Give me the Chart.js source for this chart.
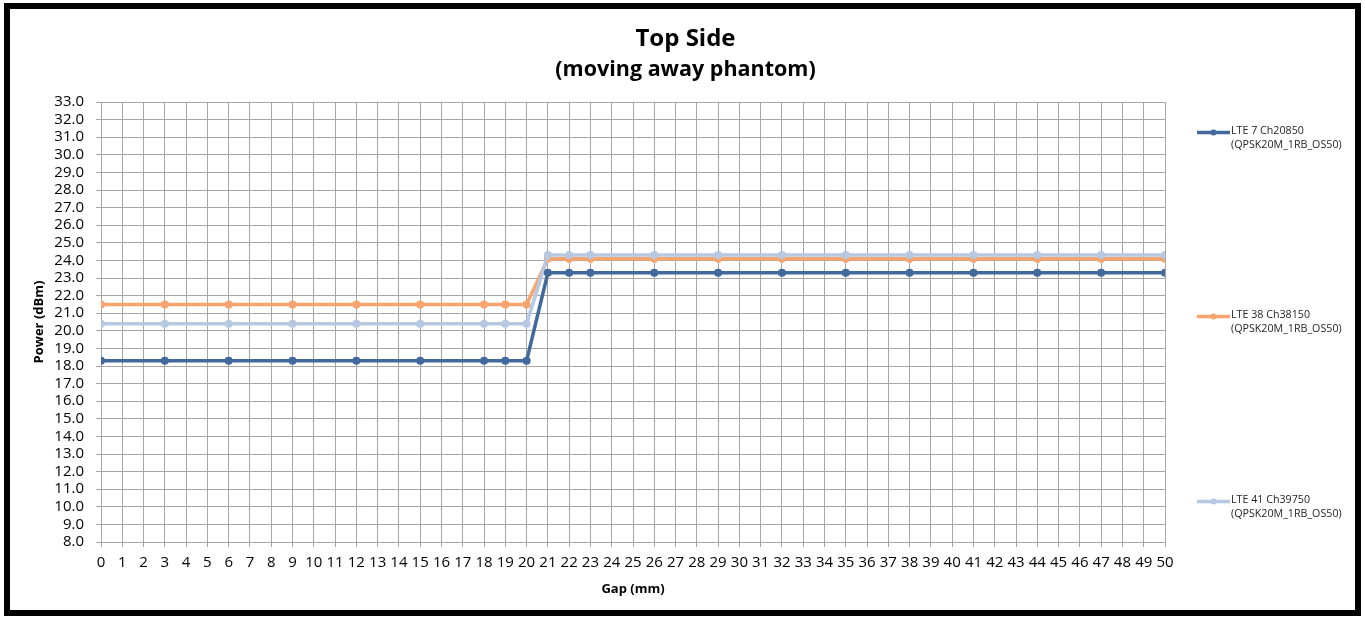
<!DOCTYPE html>
<html>
<head>
<meta charset="utf-8">
<script src="https://cdn.jsdelivr.net/npm/chart.js@4.4.1/dist/chart.umd.min.js"></script>
<style>
  html, body { margin: 0; padding: 0; background: #fff; }
  #frame {
    position: absolute; left: 4px; top: 3px; width: 1357px; height: 613px;
    box-sizing: border-box; border: 6px solid #000; background: #fff;
  }
  #wrap { position: absolute; left: 0; top: 0; width: 1365px; height: 619px; }
</style>
</head>
<body>
<div id="frame"></div>
<div id="wrap"><canvas id="chart" width="1365" height="619"></canvas></div>
<script>
// Gap positions (mm) where power was measured
const gaps = [0, 3, 6, 9, 12, 15, 18, 19, 20, 21, 22, 23, 26, 29, 32, 35, 38, 41, 44, 47, 50];

// Conducted power (dBm) per band
const lte7  = [18.3, 18.3, 18.3, 18.3, 18.3, 18.3, 18.3, 18.3, 18.3, 23.3, 23.3, 23.3, 23.3, 23.3, 23.3, 23.3, 23.3, 23.3, 23.3, 23.3, 23.3];
const lte38 = [21.5, 21.5, 21.5, 21.5, 21.5, 21.5, 21.5, 21.5, 21.5, 24.1, 24.1, 24.1, 24.1, 24.1, 24.1, 24.1, 24.1, 24.1, 24.1, 24.1, 24.1];
const lte41 = [20.4, 20.4, 20.4, 20.4, 20.4, 20.4, 20.4, 20.4, 20.4, 24.3, 24.3, 24.3, 24.3, 24.3, 24.3, 24.3, 24.3, 24.3, 24.3, 24.3, 24.3];

const seriesNames = [
  ['LTE 7 Ch20850', '(QPSK20M_1RB_OS50)'],
  ['LTE 38 Ch38150', '(QPSK20M_1RB_OS50)'],
  ['LTE 41 Ch39750', '(QPSK20M_1RB_OS50)']
];
const seriesColors = ['#41699D', '#F7A46E', '#B6C8E2'];

const titleText = 'Top Side';
const subtitleText = '(moving away phantom)';
const xTitle = 'Gap (mm)';
const yTitle = 'Power (dBm)';
const yMin = 8, yMax = 33, yStep = 1;
const xMin = 0, xMax = 50, xStep = 1;

const FONT = "'Open Sans', Lato, 'Liberation Sans', sans-serif";
const GRID = '#A6A6A6';

function toPoints(values) {
  return gaps.map((g, i) => ({ x: g, y: values[i] }));
}

const datasets = [lte7, lte38, lte41].map((vals, i) => ({
  label: seriesNames[i],
  data: toPoints(vals),
  borderColor: seriesColors[i],
  backgroundColor: seriesColors[i],
  borderWidth: 3.5,
  pointRadius: 4,
  pointHoverRadius: 4,
  pointBorderWidth: 0,
  tension: 0
}));
// dark series on top, light blue above orange
datasets[0].order = 0;
datasets[1].order = 2;
datasets[2].order = 1;

// Two-line heading centred over the whole figure
const heading = {
  id: 'heading',
  afterDraw(chart) {
    const ctx = chart.ctx;
    const cx = chart.width / 2 + 3;
    ctx.save();
    ctx.fillStyle = '#000';
    ctx.textAlign = 'center';
    ctx.textBaseline = 'middle';
    ctx.font = "bold 24px " + FONT;
    ctx.fillText(titleText, cx, 39);
    ctx.font = "bold 21.5px " + FONT;
    ctx.fillText(subtitleText, cx, 70);
    ctx.restore();
  }
};

// Legend entries placed down the right-hand side
const sideLegend = {
  id: 'sideLegend',
  afterDraw(chart) {
    const ctx = chart.ctx;
    const rowsY = [131, 315, 500];
    ctx.save();
    chart.data.datasets.forEach((ds, i) => {
      const y = rowsY[i];
      ctx.strokeStyle = ds.borderColor;
      ctx.lineWidth = 3.5;
      ctx.beginPath();
      ctx.moveTo(1197, y + 1.5);
      ctx.lineTo(1230, y + 1.5);
      ctx.stroke();
      ctx.fillStyle = ds.borderColor;
      ctx.beginPath();
      ctx.arc(1213.5, y + 1.5, 3, 0, Math.PI * 2);
      ctx.fill();
      ctx.fillStyle = '#262626';
      ctx.font = "10.7px " + FONT;
      ctx.textBaseline = 'middle';
      ctx.textAlign = 'left';
      ds.label.forEach((line, k) => ctx.fillText(line, 1231, y + k * 13.5));
    });
    ctx.restore();
  }
};

new Chart(document.getElementById('chart'), {
  type: 'line',
  data: { datasets },
  options: {
    responsive: false,
    animation: false,
    events: [],
    layout: { padding: { left: 31, right: 200, top: 102, bottom: 22 } },
    plugins: {
      legend: { display: false },
      tooltip: { enabled: false },
      title: { display: false }
    },
    scales: {
      x: {
        type: 'linear',
        min: xMin, max: xMax,
        afterFit(scale) { scale.height = 55; },
        ticks: {
          stepSize: xStep, autoSkip: false, maxRotation: 0,
          color: '#000', padding: 7,
          font: { family: FONT, size: 15 }
        },
        grid: { color: GRID, lineWidth: 1, tickLength: 5 },
        border: { color: GRID, width: 1 },
        title: {
          display: true, text: xTitle, color: '#000',
          font: { family: FONT, size: 13, weight: 'bold' },
          padding: { top: 0, bottom: 0 }
        }
      },
      y: {
        type: 'linear',
        min: yMin, max: yMax,
        afterFit(scale) { scale.width = 70; },
        ticks: {
          stepSize: yStep, autoSkip: false, color: '#000', padding: 12,
          font: { family: FONT, size: 15 },
          callback: v => Number(v).toFixed(1)
        },
        grid: { color: GRID, lineWidth: 1, tickLength: 5 },
        border: { color: GRID, width: 1 },
        title: {
          display: true, text: yTitle, color: '#000',
          font: { family: FONT, size: 13, weight: 'bold' },
          padding: { top: 0, bottom: 0 }
        }
      }
    }
  },
  plugins: [heading, sideLegend]
});
</script>
</body>
</html>
